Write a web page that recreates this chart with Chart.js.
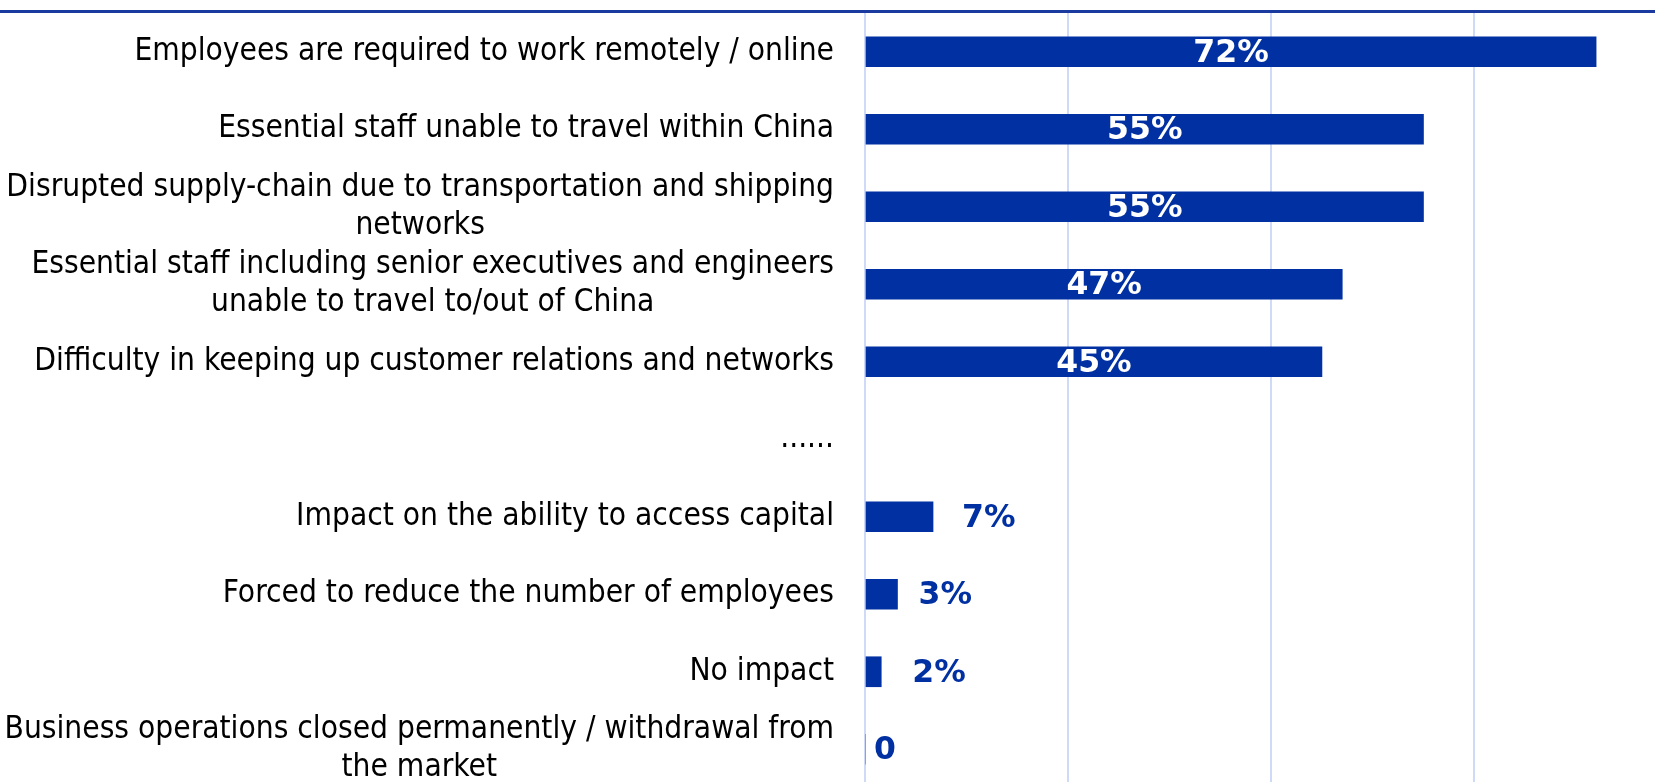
<!DOCTYPE html>
<html>
<head>
<meta charset="utf-8">
<script src="https://cdn.jsdelivr.net/npm/chart.js@4.4.1/dist/chart.umd.min.js"></script>
<style>
  html, body { margin: 0; padding: 0; overflow: hidden; background: #fff; }
  canvas { display: block; }
</style>
</head>
<body>
<canvas id="impactChart" width="1655" height="788"></canvas>
<script>
// categories, top to bottom (multi-line labels as arrays)
const categories = [
  ["Employees are required to work remotely / online"],
  ["Essential staff unable to travel within China"],
  ["Disrupted supply-chain due to transportation and shipping", "networks"],
  ["Essential staff including senior executives and engineers", "unable to travel to/out of China"],
  ["Difficulty in keeping up customer relations and networks"],
  ["......"],
  ["Impact on the ability to access capital"],
  ["Forced to reduce the number of employees"],
  ["No impact"],
  ["Business operations closed permanently / withdrawal from", "the market"]
];

// share of respondents, %
const values = [72, 55, 55, 47, 45, null, 6.7, 3.2, 1.6, 0];
const valueLabels = ["72%", "55%", "55%", "47%", "45%", "", "7%", "3%", "2%", "0"];

const gridTicks = [0, 20, 40, 60];

const BAR_BLUE = "#0030a1";
const labelFont = '31.4px "DejaVu Sans Condensed", "DejaVu Sans", sans-serif';
const valueFont = 'bold 31.5px "DejaVu Sans", sans-serif';
const outsideGap = [0, 0, 0, 0, 0, 0, 29, 21, 31, 9];

const decorations = {
  id: "decorations",
  beforeDraw(chart) {
    const ctx = chart.ctx;
    ctx.save();
    ctx.fillStyle = "#1a3a9f";
    ctx.fillRect(0, 10, chart.width, 3);
    ctx.restore();
  },
  afterDatasetsDraw(chart) {
    const ctx = chart.ctx;
    const yScale = chart.scales.y;
    const right = chart.chartArea.left - 31;
    ctx.save();

    // category labels: block right aligned, lines centred within the block
    ctx.font = labelFont;
    ctx.fillStyle = "#000";
    ctx.textBaseline = "middle";
    ctx.textAlign = "center";
    categories.forEach((lines, i) => {
      const y = yScale.getPixelForTick(i);
      const blockW = Math.max(...lines.map(l => ctx.measureText(l).width));
      const cx = right - blockW / 2;
      lines.forEach((line, j) => {
        ctx.fillText(line, cx, y + (j - (lines.length - 1) / 2) * 38);
      });
    });

    // value labels
    ctx.font = valueFont;
    const meta = chart.getDatasetMeta(0);
    meta.data.forEach((bar, i) => {
      const v = values[i];
      if (v === null) return;
      if (v >= 20) {
        ctx.fillStyle = "#fff";
        ctx.textAlign = "center";
        ctx.fillText(valueLabels[i], (bar.base + bar.x) / 2, bar.y + 2);
      } else {
        ctx.fillStyle = BAR_BLUE;
        ctx.textAlign = "left";
        ctx.fillText(valueLabels[i], bar.x + outsideGap[i], bar.y + 2);
      }
    });
    ctx.restore();
  }
};

new Chart(document.getElementById("impactChart"), {
  type: "bar",
  data: {
    labels: categories.map(c => c.join(" ")),
    datasets: [{
      data: values,
      backgroundColor: BAR_BLUE,
      barThickness: 30
    }]
  },
  options: {
    indexAxis: "y",
    responsive: false,
    animation: false,
    layout: { padding: { top: 13, left: 0, right: 0, bottom: 0 } },
    plugins: { legend: { display: false }, tooltip: { enabled: false } },
    scales: {
      x: {
        min: 0,
        max: 77.8,
        afterBuildTicks(scale) { scale.ticks = gridTicks.map(v => ({ value: v })); },
        ticks: { display: false },
        grid: { color: "#cfdaf8", lineWidth: 2, drawTicks: false },
        border: { display: false }
      },
      y: {
        ticks: { display: false },
        grid: { display: false },
        border: { display: false },
        afterFit(scale) { scale.width = 865; }
      }
    }
  },
  plugins: [decorations]
});
</script>
</body>
</html>
